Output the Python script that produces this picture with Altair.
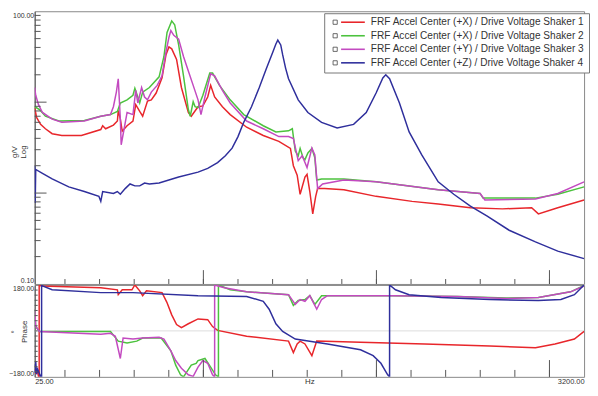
import altair as alt
import pandas as pd

SERIES = [
    "FRF Accel Center (+X) / Drive Voltage Shaker 1",
    "FRF Accel Center (+X) / Drive Voltage Shaker 2",
    "FRF Accel Center (+Y) / Drive Voltage Shaker 3",
    "FRF Accel Center (+Z) / Drive Voltage Shaker 4",
]
COLORS = ["#e8262b", "#4cc23e", "#c34ac0", "#2f2f9c"]

# Magnitude (g/V) vs frequency (Hz)
MAG_1 = [(25, 8.7), (36, 6.8), (59, 5.7), (87, 5.1), (126, 4.5), (182, 4.3), (295, 4.3), (407, 5.0),
         (418, 5.5), (435, 5.1), (480, 5.6), (503, 6.2), (508, 8.1), (520, 6.5), (531, 4.8), (559, 5.5),
         (593, 6.2), (609, 9.4), (632, 7.9), (649, 7.0), (677, 10.3), (699, 10.6), (727, 12.6), (761, 18.5),
         (784, 33.3), (801, 40.5), (817, 38.6), (845, 29.5), (873, 14.5), (913, 7.7), (930, 7.0), (969, 8.9),
         (997, 9.1), (1025, 11.4), (1042, 15.3), (1065, 11.4), (1110, 8.9), (1155, 7.3), (1250, 5.3),
         (1346, 4.3), (1436, 3.7), (1503, 3.1), (1520, 2.0), (1542, 1.57), (1559, 0.97), (1587, 1.5),
         (1599, 1.61), (1615, 1.04), (1632, 0.59), (1649, 0.92), (1660, 1.12), (1700, 1.12), (1812, 1.09),
         (1998, 0.92), (2206, 0.81), (2357, 0.76), (2543, 0.69), (2728, 0.67), (2897, 0.69), (2936, 0.59),
         (3048, 0.69), (3200, 0.84)]
MAG_2 = [(25, 8.9), (53, 8.3), (87, 7.0), (165, 6.2), (312, 6.3), (407, 7.0), (463, 7.3), (503, 7.9),
         (520, 9.8), (559, 10.6), (593, 11.9), (604, 14.2), (621, 11.4), (632, 9.8), (649, 12.9), (688, 14.5),
         (744, 19.0), (772, 31.8), (790, 58.4), (817, 78.3), (834, 71.1), (857, 42.6), (885, 19.5), (913, 8.3),
         (924, 7.0), (941, 10.1), (952, 8.9), (969, 8.7), (997, 11.9), (1037, 20.9), (1053, 20.9), (1093, 15.3),
         (1155, 10.6), (1233, 7.3), (1346, 5.5), (1419, 4.7), (1492, 4.84), (1514, 5.1), (1531, 2.9),
         (1548, 2.57), (1559, 3.1), (1576, 2.45), (1587, 2.33), (1604, 2.76), (1627, 3.1), (1644, 2.45),
         (1655, 1.39), (1683, 1.43), (1812, 1.43), (1998, 1.33), (2357, 1.09), (2599, 0.99), (2616, 0.88),
         (2919, 0.88), (3048, 0.97), (3200, 1.17)]
MAG_3 = [(25, 14.5), (31, 11.9), (47, 9.4), (70, 7.7), (126, 6.5), (182, 6.0), (312, 6.2), (407, 7.0),
         (463, 7.3), (480, 8.9), (497, 12.9), (508, 18.1), (520, 6.5), (525, 3.4), (542, 5.1), (559, 7.7),
         (593, 7.3), (609, 13.5), (621, 9.8), (632, 11.9), (643, 14.5), (660, 11.4), (677, 10.6), (699, 12.9),
         (733, 15.3), (761, 19.5), (784, 35.9), (801, 51.7), (812, 61.4), (829, 54.3), (857, 49.3), (885, 31.8),
         (913, 22.0), (941, 15.3), (969, 10.6), (986, 7.3), (1009, 11.4), (1042, 20.5), (1065, 19.5),
         (1110, 13.5), (1155, 9.8), (1250, 6.2), (1346, 5.1), (1436, 4.18), (1492, 4.18), (1520, 3.98),
         (1548, 2.27), (1571, 2.57), (1599, 1.91), (1627, 3.12), (1644, 2.63), (1660, 1.12), (1689, 1.26),
         (1812, 1.39), (1998, 1.33), (2357, 1.09), (2599, 0.99), (2627, 0.84), (2919, 0.86), (3048, 0.99),
         (3200, 1.33)]
MAG_4 = [(25, 2.0), (28, 0.78), (31, 1.82), (70, 1.65), (126, 1.43), (222, 1.17), (312, 1.04), (396, 0.92),
         (407, 0.81), (418, 1.04), (480, 0.99), (503, 1.04), (520, 0.97), (548, 1.12), (576, 1.26), (604, 1.20),
         (632, 1.20), (660, 1.29), (688, 1.26), (744, 1.29), (857, 1.50), (969, 1.70), (1025, 1.87),
         (1082, 2.16), (1127, 2.57), (1166, 3.12), (1200, 4.18), (1233, 6.0), (1278, 8.9), (1323, 14.5),
         (1363, 23.1), (1402, 35.9), (1419, 43.6), (1430, 48.1), (1447, 42.6), (1458, 33.3), (1475, 23.7),
         (1492, 18.1), (1548, 10.6), (1604, 7.7), (1683, 6.0), (1773, 5.2), (1868, 5.7), (1941, 7.7),
         (1998, 12.6), (2037, 18.5), (2054, 20.0), (2076, 18.1), (2133, 9.8), (2189, 4.7), (2262, 2.63),
         (2357, 1.33), (2447, 0.97), (2543, 0.72), (2638, 0.56), (2767, 0.39), (2919, 0.29), (3048, 0.23),
         (3200, 0.19)]

# Phase (degrees) vs frequency (Hz)
PH_1 = [(25, -150), (31, -165), (42, -160), (47, -178), (51, -180), (51, 180), (64, 176), (407, 169),
        (503, 161), (508, 142), (531, 161), (587, 161), (604, 180), (632, 157), (649, 138), (671, 157),
        (761, 150), (789, 112), (817, 63), (845, 25), (873, 13), (913, 28), (969, 47), (1025, 44), (1053, 17),
        (1082, 2), (1250, -21), (1492, -40), (1520, -85), (1542, -51), (1559, -40), (1587, -51), (1627, -97),
        (1655, -40), (1908, -44), (2279, -51), (2655, -59), (2919, -66), (3032, -51), (3144, -32), (3200, -2)]
PH_2 = [(25, 85), (31, 17), (53, -2), (463, -2), (508, -40), (559, -47), (615, -40), (649, -28), (756, -28),
        (812, -78), (840, -134), (868, -172), (885, -180), (930, -134), (958, -127), (969, -116), (1009, -108),
        (1042, -142), (1070, -172), (1087, -180), (1087, 180), (1155, 161), (1250, 153), (1492, 142),
        (1520, 100), (1548, 119), (1587, 123), (1615, 138), (1644, 104), (1683, 138), (2093, 138),
        (2469, 135), (2750, 129), (2936, 131), (3122, 153), (3200, 178)]
PH_3 = [(25, 85), (31, 17), (53, -2), (407, -13), (463, -9.5), (491, -21), (520, -108), (536, -28),
        (593, -32), (649, -28), (744, -25), (772, -32), (812, -78), (840, -116), (873, -146), (913, -172),
        (941, -178), (969, -142), (997, -116), (1025, -127), (1053, -172), (1065, -180), (1065, 180),
        (1121, 169), (1250, 153), (1492, 142), (1531, 104), (1559, 123), (1587, 116), (1615, 138), (1655, 85),
        (1683, 123), (1717, 138), (2093, 138), (2469, 135), (2750, 127), (2936, 131), (3122, 153), (3200, 176)]
PH_4 = [(25, -130), (28, -165), (31, -120), (36, -170), (42, -150), (59, -178), (65, -180), (65, 180),
        (70, 176), (126, 161), (407, 150), (593, 150), (969, 138), (1250, 135), (1346, 116), (1380, 85),
        (1419, 28), (1458, -2), (1531, -32), (1717, -51), (1908, -74), (1981, -97), (2026, -127), (2065, -172),
        (2076, -180), (2076, 180), (2110, 161), (2189, 142), (2374, 131), (2655, 123), (2936, 119),
        (3066, 123), (3144, 142), (3200, 180)]

X_DOMAIN = [25, 3200]
X_LABELS = [25, 3200]
X_MINOR_TICKS = list(range(200, 3001, 200))
X_MAJOR_TICKS = [1000, 2000, 3000]
MAG_DOMAIN = [0.1, 100]
MAG_LABELS = [0.1, 100]
MAG_MAJOR_TICKS = [1, 10]
MAG_MINOR_TICKS = [0.2, 0.3, 0.4, 0.5, 0.6, 0.7, 0.8, 0.9, 2, 3, 4, 5, 6, 7, 8, 9,
                   20, 30, 40, 50, 60, 70, 80, 90]
PH_DOMAIN = [-180, 180]
PH_LABELS = [-180, 180]
PH_TICKS = list(range(-160, 180, 20))
PH_GRID = [0]


def frame(series_lists, col):
    rows = []
    for k, (name, pairs) in enumerate(zip(SERIES, series_lists)):
        for i, (f, v) in enumerate(pairs):
            rows.append({"series": name, "box": str(k), "f": f, col: v, "i": i})
    return pd.DataFrame(rows)


mag_df = frame([MAG_1, MAG_2, MAG_3, MAG_4], "mag")
ph_df = frame([PH_1, PH_2, PH_3, PH_4], "ph")

W, H1, H2 = 556, 276, 93
FONT = "Liberation Sans"
TICK = "#555"
LEG_X, LEG_Y = 293, 2

xs = alt.Scale(domain=X_DOMAIN, nice=False, zero=False)
ys_mag = alt.Scale(type="log", domain=MAG_DOMAIN, nice=False)
ys_ph = alt.Scale(domain=PH_DOMAIN, nice=False, zero=False)
color_scale = alt.Scale(domain=SERIES, range=COLORS)

legend = alt.Legend(
    title=None, orient="none", legendX=LEG_X, legendY=LEG_Y, direction="vertical",
    symbolType="M-6,0H6", symbolSize=16, symbolStrokeWidth=1.6, symbolOffset=20,
    labelOffset=13, labelFont=FONT, labelFontSize=10.2, labelColor="#333", labelLimit=400,
    padding=4, rowPadding=2.7, strokeColor="#777", fillColor="white",
)
box_legend = alt.Legend(
    title=None, orient="none", legendX=LEG_X + 2, legendY=LEG_Y, direction="vertical",
    symbolType="square", symbolSize=18, symbolStrokeWidth=0.8, symbolStrokeColor="#444",
    symbolFillColor="white", symbolOpacity=1, labelFont=FONT, labelFontSize=10.2,
    labelColor="transparent", labelLimit=10, padding=4, rowPadding=2.7,
)


def xtick_layer(values, length, height):
    return alt.Chart(pd.DataFrame({"f": values})).mark_rule(color=TICK, strokeWidth=1).encode(
        x=alt.X("f:Q", scale=xs, axis=None), y=alt.value(height), y2=alt.value(height - length))


def ytick_layer(values, length, field, scale):
    return alt.Chart(pd.DataFrame({field: values})).mark_rule(color=TICK, strokeWidth=1).encode(
        y=alt.Y(f"{field}:Q", scale=scale, axis=None), x=alt.value(0), x2=alt.value(length))


top_lines = alt.Chart(mag_df).mark_line(strokeWidth=1.5, clip=True).encode(
    x=alt.X("f:Q", scale=xs, axis=None),
    y=alt.Y("mag:Q", scale=ys_mag, axis=alt.Axis(
        orient="left", values=MAG_LABELS, format=".2f", labelFlush=True, ticks=False,
        domain=True, domainColor="#555", grid=False, labelPadding=1,
        title=["g/V", "Log"], titleX=-24, titleY=142, titleAngle=270, titleBaseline="top",
        titleAlign="center", titleLineHeight=9)),
    color=alt.Color("series:N", scale=color_scale, legend=legend),
    order="i:Q",
)
top_boxes = alt.Chart(mag_df).mark_point(opacity=0, filled=False).encode(
    x=alt.X("f:Q", scale=xs, axis=None),
    y=alt.Y("mag:Q", scale=ys_mag, axis=None),
    shape=alt.Shape("box:N", scale=alt.Scale(range=["square"]), legend=box_legend),
)
top = alt.layer(
    top_lines,
    top_boxes,
    xtick_layer(X_MINOR_TICKS, 5, H1),
    xtick_layer(X_MAJOR_TICKS, 14, H1),
    ytick_layer(MAG_MINOR_TICKS, 6, "mag", ys_mag),
    ytick_layer(MAG_MAJOR_TICKS, 12, "mag", ys_mag),
).resolve_axis(x="independent", y="independent").properties(width=W, height=H1)

bot_grid = alt.Chart(pd.DataFrame({"ph": PH_GRID})).mark_rule(color="#dcdcdc", strokeWidth=1).encode(
    y=alt.Y("ph:Q", scale=ys_ph, axis=None), x=alt.value(0), x2=alt.value(W))
bot_lines = alt.Chart(ph_df).mark_line(strokeWidth=1.5, clip=True).encode(
    x=alt.X("f:Q", scale=xs, axis=alt.Axis(
        orient="bottom", values=X_LABELS, format=".2f", labelFlush=True, ticks=False,
        domain=False, grid=False, labelPadding=1, labelFontSize=7.5,
        title="Hz", titleY=1, titleBaseline="top")),
    y=alt.Y("ph:Q", scale=ys_ph, axis=alt.Axis(
        orient="left", values=PH_LABELS, format=".2f", labelFlush=True, ticks=False,
        domain=True, domainColor="#555", grid=False, labelPadding=1,
        title=["°", "Phase"], titleX=-24, titleY=47, titleAngle=270, titleBaseline="top",
        titleAlign="center", titleLineHeight=10)),
    color=alt.Color("series:N", scale=color_scale, legend=None),
    order="i:Q",
)
bottom = alt.layer(
    bot_grid,
    bot_lines,
    xtick_layer(X_MINOR_TICKS, 7, H2),
    xtick_layer(X_MAJOR_TICKS, 17, H2),
    ytick_layer(PH_TICKS, 3, "ph", ys_ph),
).resolve_axis(x="independent", y="independent").properties(width=W, height=H2)

chart = alt.vconcat(top, bottom, spacing=1, bounds="flush").properties(
    autosize=alt.AutoSizeParams(type="pad"),
    padding=0,
).configure_view(stroke="#888", strokeWidth=1).configure_axis(
    labelFont=FONT, labelFontSize=7, labelColor="#333",
    titleFont=FONT, titleFontSize=8, titleFontWeight="normal", titleColor="#333",
)

chart.save("out.html", embed_options={"renderer": "svg", "actions": False})
